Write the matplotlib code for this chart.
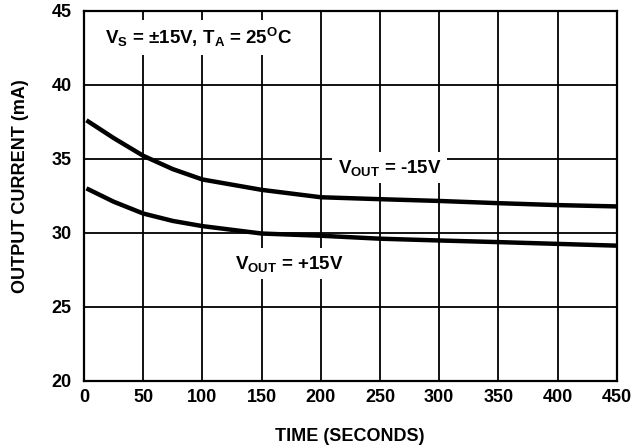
import numpy as np
import matplotlib
matplotlib.use("Agg")
import matplotlib.pyplot as plt

plt.rcParams['font.family'] = ['Liberation Sans', 'DejaVu Sans']
plt.rcParams['font.weight'] = 'bold'
plt.rcParams['mathtext.fontset'] = 'custom'
plt.rcParams['mathtext.rm'] = 'Liberation Sans:bold'
plt.rcParams['mathtext.it'] = 'Liberation Sans:bold'
plt.rcParams['mathtext.bf'] = 'Liberation Sans:bold'
plt.rcParams['mathtext.default'] = 'rm'

# Data
time_s = [2, 25, 50, 75, 100, 150, 200, 250, 300, 350, 400, 450]
i_out_neg15 = [37.6, 36.4, 35.2, 34.3, 33.6, 32.9, 32.4, 32.27, 32.15, 32.0, 31.87, 31.78]
i_out_pos15 = [33.0, 32.1, 31.3, 30.8, 30.45, 29.95, 29.8, 29.6, 29.48, 29.37, 29.25, 29.13]

x_ticks = [0, 50, 100, 150, 200, 250, 300, 350, 400, 450]
y_ticks = [20, 25, 30, 35, 40, 45]

fig = plt.figure(figsize=(6.32, 4.48), dpi=100)
ax = fig.add_axes([0.133, 0.150, 0.843, 0.826])

ax.plot(time_s, i_out_neg15, color='black', lw=3.2, solid_capstyle='butt', zorder=3)
ax.plot(time_s, i_out_pos15, color='black', lw=3.2, solid_capstyle='butt', zorder=3)

ax.set_xlim(0, 450)
ax.set_ylim(20, 45)
ax.set_xticks(x_ticks)
ax.set_yticks(y_ticks)
ax.grid(True, color='black', lw=1.3)
ax.tick_params(axis='x', length=0, labelsize=13, pad=6)
ax.tick_params(axis='y', length=0, labelsize=13, pad=9)
for s in ax.spines.values():
    s.set_linewidth(1.6)

fig.text(0.554, 0.0246, 'TIME (SECONDS)', fontsize=13, fontweight='bold',
         ha='center', va='center')
fig.text(21 / 632, 1 - 186.5 / 448, 'OUTPUT CURRENT (mA)', fontsize=13, fontweight='bold',
         ha='center', va='center', rotation=90)

box = dict(facecolor='white', edgecolor='none', pad=4)
ax.text(97, 43.2, 'V$_S$ = ±15V, T$_A$ = 25$^O$C', fontsize=13.5, ha='center', va='center',
        bbox=box, zorder=4)
ax.text(258, 34.4, 'V$_{OUT}$ = -15V', fontsize=13.5, ha='center', va='center',
        bbox=box, zorder=4)
ax.text(173, 27.9, 'V$_{OUT}$ = +15V', fontsize=13.5, ha='center', va='center',
        bbox=box, zorder=4)

fig.savefig('out.png', dpi=100)
